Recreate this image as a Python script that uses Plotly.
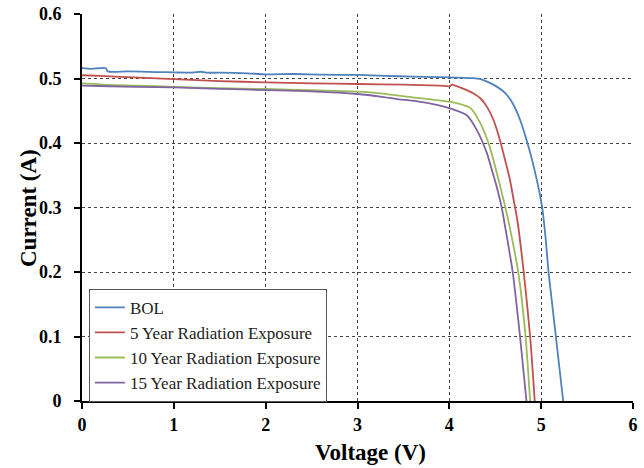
import plotly.graph_objects as go

# ---- data ----
bol_v = [0, 0.1, 0.2, 0.26, 0.28, 0.5, 0.8, 1.0, 1.2, 1.3, 1.35, 1.5, 1.8, 2.0, 2.3, 2.6,
         3.0, 3.3, 3.6, 3.9, 4.1, 4.25, 4.34, 4.43, 4.52, 4.58, 4.63, 4.70, 4.77, 4.84,
         4.92, 5.01, 5.05, 5.08, 5.12, 5.16, 5.2, 5.24]
bol_i = [0.516, 0.515, 0.516, 0.516, 0.511, 0.511, 0.510, 0.5095, 0.509, 0.5105, 0.509,
         0.509, 0.508, 0.5065, 0.507, 0.506, 0.5055, 0.504, 0.503, 0.502, 0.5015, 0.5005,
         0.499, 0.494, 0.487, 0.481, 0.474, 0.459, 0.436, 0.405, 0.363, 0.301, 0.25, 0.2,
         0.15, 0.1, 0.05, 0.0]

y5_v = [0, 0.2, 0.5, 1.0, 1.5, 2.0, 2.5, 3.0, 3.5, 3.9, 4.0, 4.03, 4.1, 4.19, 4.26, 4.34,
        4.41, 4.48, 4.55, 4.61, 4.66, 4.70, 4.74, 4.81, 4.88, 4.93]
y5_i = [0.505, 0.504, 0.502, 0.499, 0.496, 0.494, 0.4925, 0.4915, 0.4905, 0.489, 0.488,
        0.4905, 0.487, 0.482, 0.477, 0.469, 0.456, 0.436, 0.405, 0.372, 0.343, 0.312,
        0.281, 0.2, 0.1, 0.0]

y10_v = [0, 0.3, 0.6, 1.0, 1.5, 2.0, 2.5, 3.0, 3.25, 3.6, 4.0, 4.1, 4.23, 4.34, 4.44,
         4.55, 4.61, 4.66, 4.75, 4.83, 4.88]
y10_i = [0.4925, 0.490, 0.489, 0.487, 0.485, 0.4837, 0.482, 0.4795, 0.477, 0.4708, 0.464,
         0.461, 0.454, 0.430, 0.394, 0.335, 0.300, 0.268, 0.2, 0.1, 0.0]

y15_v = [0, 0.3, 0.6, 1.0, 1.5, 2.0, 2.5, 3.0, 3.25, 3.45, 3.6, 3.9, 4.0, 4.19, 4.30,
         4.41, 4.47, 4.52, 4.57, 4.62, 4.69, 4.77, 4.84]
y15_i = [0.4888, 0.488, 0.487, 0.4862, 0.484, 0.482, 0.480, 0.476, 0.472, 0.4677, 0.4656,
         0.458, 0.454, 0.443, 0.420, 0.384, 0.355, 0.330, 0.300, 0.260, 0.2, 0.1, 0.0]

names = ["BOL", "5 Year Radiation Exposure", "10 Year Radiation Exposure",
         "15 Year Radiation Exposure"]
colors = ["#4F81BD", "#C0504D", "#9BBB59", "#8064A2"]
series = [(bol_v, bol_i), (y5_v, y5_i), (y10_v, y10_i), (y15_v, y15_i)]

x_ticks = [0, 1, 2, 3, 4, 5, 6]
y_ticks = [0, 0.1, 0.2, 0.3, 0.4, 0.5, 0.6]
y_tick_text = ["0", "0.1", "0.2", "0.3", "0.4", "0.5", "0.6"]
x_title = "Voltage (V)"
y_title = "Current (A)"

fig = go.Figure()
for (v, i), n, c in zip(series, names, colors):
    fig.add_trace(go.Scatter(x=v, y=i, mode="lines", name=n,
                             line=dict(color=c, width=1.8, shape="spline", smoothing=0.6)))

serif = "Times New Roman"
fig.update_layout(
    width=644, height=468,
    margin=dict(l=82, r=11, t=14, b=67),
    paper_bgcolor="white", plot_bgcolor="white",
    font=dict(family=serif, color="black"),
    showlegend=True,
    legend=dict(x=0.0125, y=0.29, xanchor="left", yanchor="top",
                bgcolor="white", bordercolor="#555", borderwidth=1,
                font=dict(family=serif, size=17, color="#222"),
                itemwidth=30, tracegroupgap=0),
    xaxis=dict(range=[0, 6], tickvals=x_ticks, ticktext=[f"<b>{t}</b>" for t in x_ticks],
               showline=True, linecolor="black", linewidth=2, automargin=False,
               ticks="outside", ticklen=6, tickwidth=2, tickcolor="black",
               showgrid=True, gridcolor="#444", gridwidth=1, griddash="dot",
               zeroline=False,
               tickfont=dict(family=serif, size=18, color="black")),
    yaxis=dict(range=[0, 0.6], tickvals=y_ticks, ticktext=[f"<b>{t}</b>" for t in y_tick_text],
               showline=True, linecolor="black", linewidth=2, automargin=False,
               ticks="outside", ticklen=6, tickwidth=2, tickcolor="black",
               ticklabelstandoff=9,
               showgrid=True, gridcolor="#444", gridwidth=1, griddash="dot",
               zeroline=False,
               tickfont=dict(family=serif, size=18, color="black")),
    annotations=[
        dict(text=f"<b>{x_title}</b>", xref="paper", yref="paper", x=0.5245, y=-0.134,
             xanchor="center", yanchor="middle", showarrow=False,
             font=dict(family=serif, size=23, color="black")),
        dict(text=f"<b>{y_title}</b>", xref="paper", yref="paper", x=-0.098, y=0.4987,
             xanchor="center", yanchor="middle", showarrow=False, textangle=-90,
             font=dict(family=serif, size=23, color="black")),
    ],
)

fig.write_html("out.html")
